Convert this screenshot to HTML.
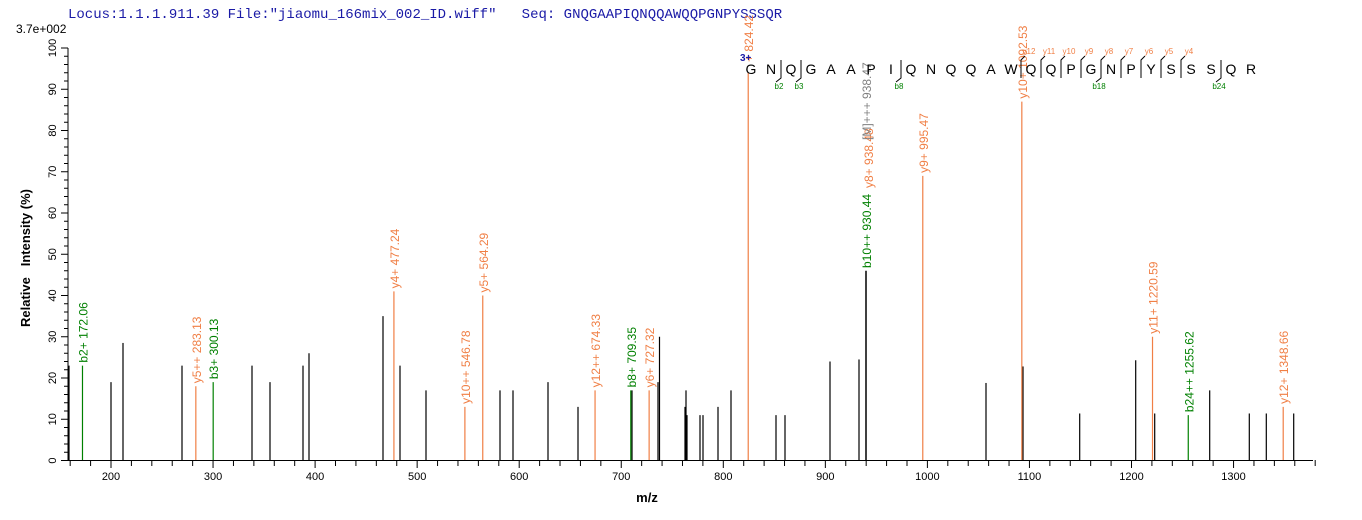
<!DOCTYPE html>
<html><head><meta charset="utf-8"><style>
body{margin:0;background:#fff;width:1362px;height:520px;overflow:hidden}
svg{display:block}
text{font-family:"Liberation Sans",Arial,sans-serif}
text.mono{font-family:"Liberation Mono","Courier New",monospace;white-space:pre}
.o{fill:#f07f45}.g{fill:#008000}.gr{fill:#808080}
</style></head><body>
<svg width="1362" height="520" xmlns="http://www.w3.org/2000/svg">
<text class="mono" x="68" y="18" font-size="14" fill="#1a1aa6" xml:space="preserve">Locus:1.1.1.911.39 File:"jiaomu_166mix_002_ID.wiff"   Seq: GNQGAAPIQNQQAWQQPGNPYSSSQR</text>
<text x="16" y="33" font-size="12" fill="#000">3.7e+002</text>
<g stroke="#000" stroke-width="1" fill="none">
<line x1="68" y1="48" x2="68" y2="461"/>
<line x1="68" y1="460.5" x2="1313" y2="460.5"/>
</g>
<g id="yt" stroke="#000"></g>
<g id="xt" stroke="#000"></g>
<g id="pk"></g>
<g id="lb"></g>
<text transform="translate(30,258) rotate(-90)" text-anchor="middle" font-size="13" font-weight="bold" xml:space="preserve" style="white-space:pre">Relative   Intensity (%)</text>
<text x="647" y="502" text-anchor="middle" font-size="13" font-weight="bold">m/z</text>
<text x="740" y="61" font-size="10" font-weight="bold" fill="#1a1aa6">3+</text>
<g id="seq"></g>
</svg>
<script>
var NS="http://www.w3.org/2000/svg";
function el(p,t,a,txt){var e=document.createElementNS(NS,t);for(var k in a)e.setAttribute(k,a[k]);if(txt!==undefined)e.textContent=txt;document.getElementById(p).appendChild(e);return e;}
function Y(h){return 460.5-h*4.125;}
function X(m){return 111+(m-200)*1.0205;}
for(var i=0;i<=100;i+=2){var y=Y(i);el("yt","line",{x1:i%10==0?61:64,y1:y,x2:68,y2:y});
 if(i%10==0)el("yt","text",{transform:"translate(56,"+y+") rotate(-90)","text-anchor":"middle","font-size":"11",stroke:"none"},i);}
for(var m=160;m<=1380;m+=20){var x=X(m);var maj=m%100==0;el("xt","line",{x1:x,y1:460,x2:x,y2:maj?468:466});
 if(maj)el("xt","text",{x:x,y:480,"text-anchor":"middle","font-size":"11",stroke:"none"},m);}
var blk=[[69,23],[111,19],[123,28.5],[182,23],[252,23],[270,19],[303,23],[309,26],[383,35],[400,23],[426,17],[500,17],[513,17],[548,19],[578,13],[632,17],[658,19],[659.5,30],[685,13],[686,17],[687,11],[700,11],[703,11],[718,13],[731,17],[776,11],[785,11],[830,24],[859,24.5],[866,46],[986,18.8],[1023,22.8],[1079.7,11.4],[1135.7,24.3],[1154.7,11.4],[1209.7,17],[1249.3,11.4],[1266.3,11.4],[1293.7,11.4]];
blk.forEach(function(p){el("pk","line",{x1:p[0],y1:460,x2:p[0],y2:Y(p[1]),stroke:"#000","stroke-width":p[1]>40?1.5:1.2});});
var col=[["b2+ 172.06",172.06,23,"g"],["y5++ 283.13",283.13,18,"o"],["b3+ 300.13",300.13,19,"g"],["y4+ 477.24",477.24,41,"o"],["y10++ 546.78",546.78,13,"o"],["y5+ 564.29",564.29,40,"o"],["y12++ 674.33",674.33,17,"o"],["b8+ 709.35",709.35,17,"g"],["y6+ 727.32",727.32,17,"o"],["y9+ 995.47",995.47,69,"o"],["y10+ 1092.53",1092.53,87,"o"],["y11+ 1220.59",1220.59,30,"o"],["b24++ 1255.62",1255.62,11,"g"],["y12+ 1348.66",1348.66,13,"o"]];
col.forEach(function(p){var x=X(p[1]),y=Y(p[2]);el("pk","line",{x1:x,y1:460,x2:x,y2:y,stroke:p[3]=="o"?"#f07f45":"#008000","stroke-width":1.2});
 el("lb","text",{transform:"translate("+(x+5)+","+(y-3)+") rotate(-90)","font-size":"12","class":p[3]},p[0]);});
var x8=X(824.42);el("pk","line",{x1:x8,y1:460,x2:x8,y2:Y(94),stroke:"#f07f45","stroke-width":1.2});
el("lb","text",{transform:"translate("+(x8+5)+",62) rotate(-90)","font-size":"12","class":"o"},"+ 824.42");
el("lb","text",{transform:"translate(871,268) rotate(-90)","font-size":"12","class":"g"},"b10++ 930.44");
el("lb","text",{transform:"translate(873,188) rotate(-90)","font-size":"12","class":"o"},"y8+ 938.48");
el("lb","text",{transform:"translate(871,140) rotate(-90)","font-size":"12","class":"gr"},"[M]+++ 938.47");
var s="GNQGAAPIQNQQAWQQPGNPYSSSQR";
for(var k=0;k<s.length;k++)el("seq","text",{x:751+k*20,y:74,"text-anchor":"middle","font-size":"14"},s[k]);
[2,3,8,18,24].forEach(function(k){var x=751+(k-0.5)*20;el("seq","path",{d:"M"+x+" 60 L"+x+" 78 L"+(x-5)+" 82",stroke:"#000",fill:"none"});
 el("seq","text",{x:x-2,y:89,"text-anchor":"middle","font-size":"8","class":"g"},"b"+k);});
for(var n=12;n>=4;n--){var k=26-n;var x=751+(k-0.5)*20;el("seq","path",{d:"M"+(x+4)+" 56 L"+x+" 60 L"+x+" 78",stroke:"#000",fill:"none"});
 el("seq","text",{x:x+8,y:54,"text-anchor":"middle","font-size":"8","class":"o"},"y"+n);}
</script>
</body></html>
